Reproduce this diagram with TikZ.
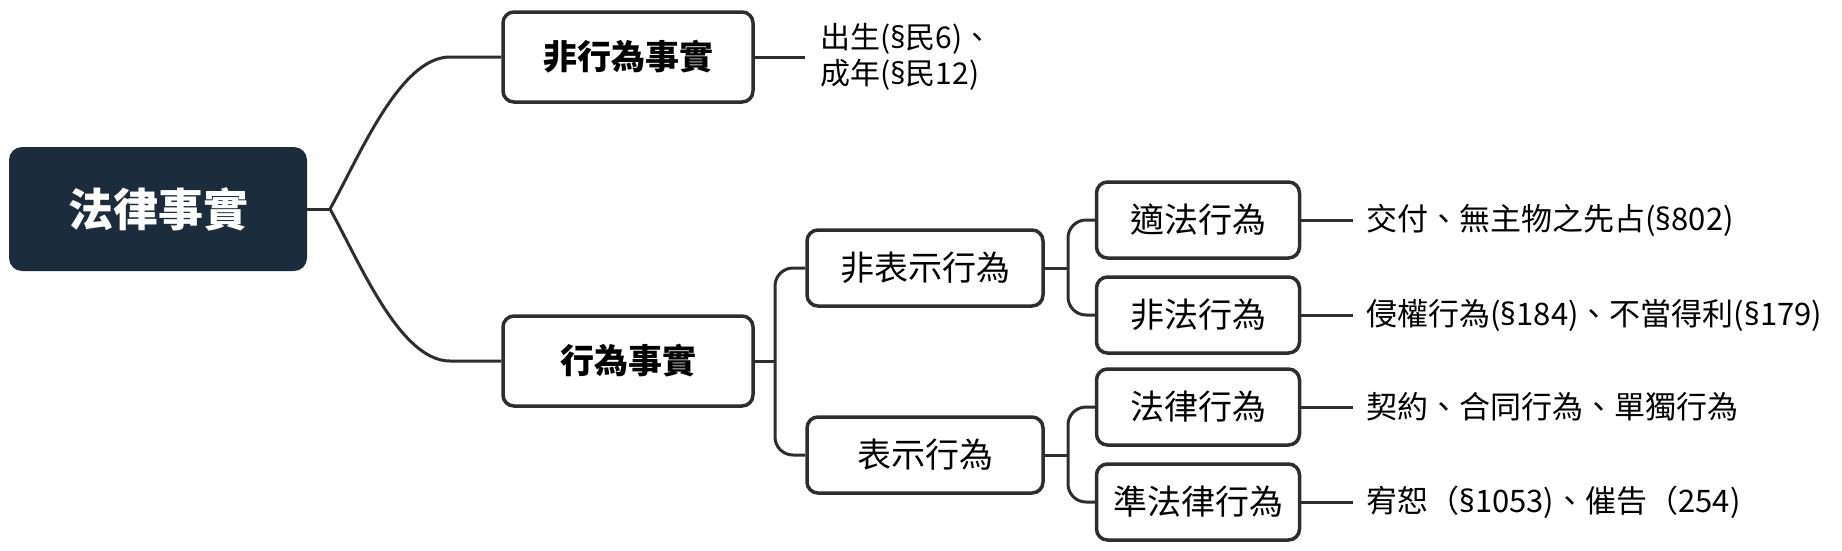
\documentclass[tikz,border=0pt]{standalone}
\usepackage{fontspec}
\setmainfont{Noto Sans CJK TC}
\newfontfamily\latinfont{Noto Sans}
\newcommand\secmark{{\latinfont §}}
\definecolor{rootblue}{HTML}{1B2D3C}
\definecolor{linegray}{HTML}{2E2E2E}
\tikzset{
  rootbox/.style={fill=rootblue, rounded corners=13pt, text=white,
    font=\bfseries\fontsize{45}{50}\selectfont, minimum width=298pt, minimum height=124pt},
  mainbox/.style={draw=linegray, line width=3.5pt, rounded corners=11pt, fill=white,
    font=\bfseries\fontsize{34}{40}\selectfont, minimum width=250pt, minimum height=90pt},
  midbox/.style={draw=linegray, line width=3.5pt, rounded corners=11pt, fill=white,
    font=\fontsize{34}{40}\selectfont, minimum width=236pt, minimum height=76pt},
  smallbox/.style={midbox, minimum width=203pt},
  leaf/.style={anchor=west, inner sep=0pt, align=left, text=black,
    font=\fontsize{31}{37}\selectfont},
  branch/.style={draw=linegray, line width=3pt}
}
\begin{document}
\begin{tikzpicture}[x=1pt,y=-1pt]
 \useasboundingbox (0,0) rectangle (1842,550);
 % boxes
 \node[rootbox] (root) at (158,209) {法律事實};
 \node[mainbox] (fxw) at (628,57) {非行為事實};
 \node[mainbox] (xw) at (628,361) {行為事實};
 \node[midbox] (fbs) at (925,268) {非表示行為};
 \node[midbox] (bs) at (925,455) {表示行為};
 \node[smallbox] (sf) at (1198,220) {適法行為};
 \node[smallbox] (ff) at (1198,315) {非法行為};
 \node[smallbox] (fl) at (1198,407) {法律行為};
 \node[smallbox] (zfl) at (1198,502) {準法律行為};
 % leaves
 \node[leaf, font=\fontsize{30}{36}\selectfont] (l0) at (820,57) {出生(\secmark 民6)、\\成年(\secmark 民12)};
 \node[leaf] (l1) at (1366,220) {交付、無主物之先占(\secmark 802)};
 \node[leaf] (l2) at (1366,315) {侵權行為(\secmark 184)、不當得利(\secmark 179)};
 \node[leaf] (l3) at (1366,407) {契約、合同行為、單獨行為};
 \node[leaf] (l4) at (1366,502) {宥恕（\secmark 1053)、催告（254)};
 % branch points
 \coordinate (rb) at (330,209);
 \coordinate (b1) at (775,361);
 \coordinate (b2) at (1068,268);
 \coordinate (b3) at (1068,455);
 % connectors
 \draw[branch] (root.east) -- (rb);
 \draw[branch] (rb) .. controls (360,155) and (400,57) .. (450,57) -- (fxw.west);
 \draw[branch] (rb) .. controls (360,263) and (400,361) .. (450,361) -- (xw.west);
 \draw[branch] (xw.east) -- (b1);
 \draw[branch, rounded corners=18pt] (fbs.west) -| (b1) |- (bs.west);
 \draw[branch] (fbs.east) -- (b2);
 \draw[branch, rounded corners=18pt] (sf.west) -| (b2) |- (ff.west);
 \draw[branch] (bs.east) -- (b3);
 \draw[branch, rounded corners=18pt] (fl.west) -| (b3) |- (zfl.west);
 \draw[branch] (fxw.east) -- ([xshift=-15pt]l0.west);
 \draw[branch] (sf.east) -- ([xshift=-13pt]l1.west);
 \draw[branch] (ff.east) -- ([xshift=-13pt]l2.west);
 \draw[branch] (fl.east) -- ([xshift=-13pt]l3.west);
 \draw[branch] (zfl.east) -- ([xshift=-13pt]l4.west);
\end{tikzpicture}
\end{document}
